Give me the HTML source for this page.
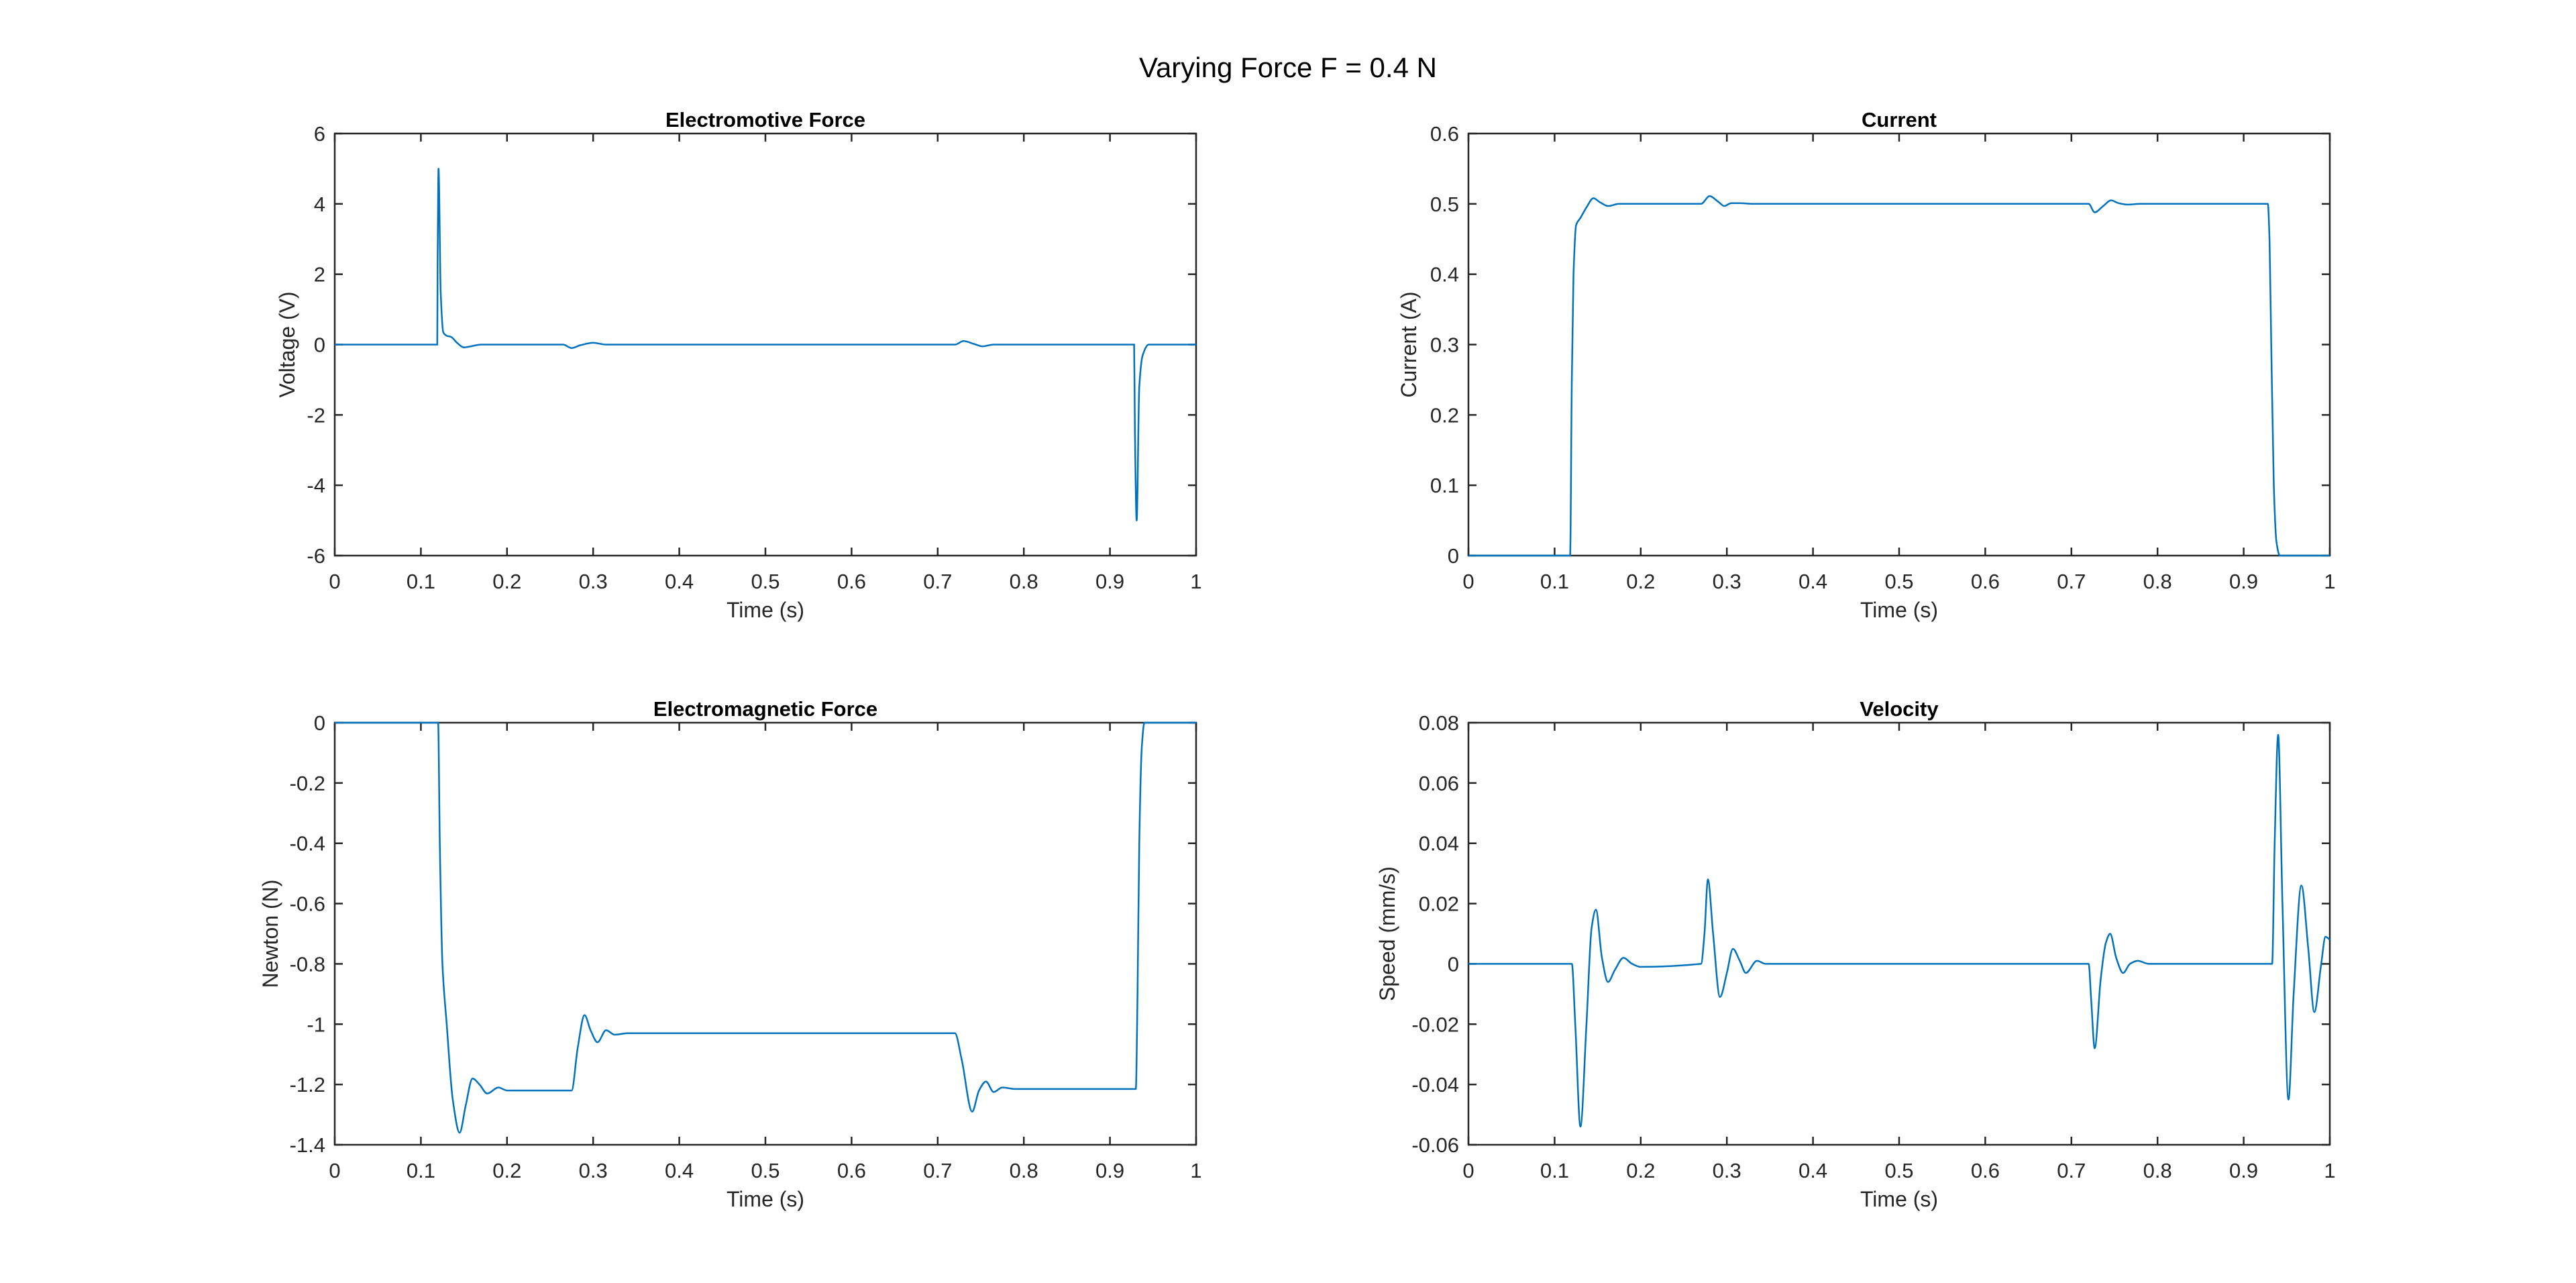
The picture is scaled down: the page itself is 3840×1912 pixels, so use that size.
<!DOCTYPE html>
<html><head><meta charset="utf-8"><style>
html,body{margin:0;padding:0;background:#fff;}
svg{display:block;font-family:"Liberation Sans",Arial,sans-serif;}
</style></head><body>
<svg id="fig" width="3840" height="1912" viewBox="0 0 3840 1912">
<rect width="3840" height="1912" fill="#fff"/>
<text x="1920" y="115" font-size="42" text-anchor="middle" fill="#000">Varying Force F = 0.4 N</text>
</svg>
<script>
// ---- data ----
const emfT = [0,0.119,0.1195,0.1205,0.123,0.126,0.13,0.135,0.142,0.15,0.158,0.17,0.2,0.265,0.275,0.285,0.3,0.315,0.33,0.72,0.73,0.742,0.752,0.765,0.78,0.928,0.929,0.931,0.934,0.938,0.945,1];
const emfV = [0,0,2.5,5,1.5,0.35,0.25,0.22,0.05,-0.08,-0.05,0,0,0,-0.1,-0.02,0.05,0,0,0,0.1,0.02,-0.05,0,0,0,-2.5,-5,-1.2,-0.3,0,0];
const curT = [0,0.118,0.12,0.122,0.125,0.13,0.137,0.145,0.153,0.162,0.175,0.2,0.27,0.28,0.29,0.297,0.305,0.315,0.33,0.72,0.727,0.737,0.746,0.755,0.765,0.78,0.928,0.93,0.932,0.935,0.938,0.942,1];
const curV = [0,0,0.25,0.4,0.47,0.48,0.495,0.508,0.502,0.497,0.5,0.5,0.5,0.511,0.503,0.497,0.501,0.501,0.5,0.5,0.488,0.497,0.505,0.501,0.499,0.5,0.5,0.45,0.3,0.1,0.02,0,0];
const emT = [0,0.12,0.122,0.125,0.13,0.137,0.145,0.152,0.16,0.168,0.177,0.19,0.2,0.275,0.282,0.29,0.297,0.305,0.315,0.325,0.34,0.72,0.728,0.74,0.748,0.756,0.765,0.775,0.79,0.93,0.932,0.934,0.937,0.94,1];
const emV = [0,0,-0.4,-0.8,-1.0,-1.25,-1.36,-1.27,-1.18,-1.2,-1.23,-1.21,-1.22,-1.22,-1.08,-0.97,-1.02,-1.06,-1.02,-1.035,-1.03,-1.03,-1.12,-1.29,-1.22,-1.19,-1.225,-1.21,-1.215,-1.215,-0.9,-0.4,-0.08,0,0];
const velT = [0,0.12,0.124,0.13,0.137,0.143,0.148,0.155,0.162,0.17,0.18,0.19,0.2,0.27,0.274,0.278,0.284,0.292,0.3,0.307,0.315,0.322,0.335,0.345,0.72,0.723,0.727,0.734,0.74,0.745,0.752,0.76,0.768,0.777,0.79,0.933,0.936,0.94,0.945,0.952,0.958,0.967,0.975,0.982,0.99,0.995,1];
const velV = [0,0,-0.02,-0.054,-0.02,0.012,0.018,0.002,-0.006,-0.002,0.002,0,-0.001,0,0.01,0.028,0.01,-0.011,-0.003,0.005,0.001,-0.003,0.001,0,0,-0.012,-0.028,-0.005,0.007,0.01,0.002,-0.003,0,0.001,0,0,0.04,0.076,0.02,-0.045,-0.01,0.026,0.005,-0.016,0,0.009,0.008];
const xTicks = [0,0.1,0.2,0.3,0.4,0.5,0.6,0.7,0.8,0.9,1];
const emfTicks = [-6,-4,-2,0,2,4,6];
const curTicks = [0,0.1,0.2,0.3,0.4,0.5,0.6];
const emTicks = [-1.4,-1.2,-1,-0.8,-0.6,-0.4,-0.2,0];
const velTicks = [-0.06,-0.04,-0.02,0,0.02,0.04,0.06,0.08];

const NS="http://www.w3.org/2000/svg";
const svg=document.getElementById('fig');
function mk(tag,attrs,parent){const e=document.createElementNS(NS,tag);for(const k in attrs)e.setAttribute(k,attrs[k]);(parent||svg).appendChild(e);return e;}
function monoPath(px,py){
  const n=px.length;const d=[],m=[];
  for(let i=0;i<n-1;i++){d.push((py[i+1]-py[i])/(px[i+1]-px[i]));}
  m[0]=d[0];m[n-1]=d[n-2];
  for(let i=1;i<n-1;i++){m[i]=(d[i-1]*d[i]<=0)?0:2*d[i-1]*d[i]/(d[i-1]+d[i]);}
  let s="M"+px[0].toFixed(1)+","+py[0].toFixed(1);
  for(let i=0;i<n-1;i++){const h=(px[i+1]-px[i])/3;
    s+="C"+(px[i]+h).toFixed(1)+","+(py[i]+m[i]*h).toFixed(1)+" "+(px[i+1]-h).toFixed(1)+","+(py[i+1]-m[i+1]*h).toFixed(1)+" "+px[i+1].toFixed(1)+","+py[i+1].toFixed(1);}
  return s;}
function fmt(v){return (Math.round(v*100)/100).toString();}
function panel(id,x0,y0,w,h,ymin,ymax,yticks,title,ylabel,T,V,yOff){
  const g=mk('g',{});
  
  
  const sx=t=>x0+t*w, sy=v=>y0+h-(v-ymin)/(ymax-ymin)*h;
  const bg=mk('rect',{x:x0,y:y0,width:w,height:h,fill:'#fff',stroke:'#262626','stroke-width':2.5},g);
  
  
  xTicks.forEach(t=>{const X=sx(t);
    mk('line',{x1:X,x2:X,y1:y0+h,y2:y0+h-12,stroke:'#262626','stroke-width':2.5},g);
    mk('line',{x1:X,x2:X,y1:y0,y2:y0+12,stroke:'#262626','stroke-width':2.5},g);
    const tx=mk('text',{x:X,y:y0+h+49,'font-size':31,'text-anchor':'middle',fill:'#262626'},g);tx.textContent=fmt(t);
    
    });
  yticks.forEach(v=>{const Y=sy(v);
    mk('line',{x1:x0,x2:x0+12,y1:Y,y2:Y,stroke:'#262626','stroke-width':2.5},g);
    mk('line',{x1:x0+w,x2:x0+w-12,y1:Y,y2:Y,stroke:'#262626','stroke-width':2.5},g);
    const tx=mk('text',{x:x0-14,y:Y+11,'font-size':31,'text-anchor':'end',fill:'#262626'},g);tx.textContent=fmt(v);
    
    });
  const tt=mk('text',{x:x0+w/2,y:y0-10,'font-size':31,'font-weight':'bold','text-anchor':'middle',fill:'#000'},g);tt.textContent=title;
  
  
  const xl=mk('text',{x:x0+w/2,y:y0+h+92,'font-size':32,'text-anchor':'middle',fill:'#262626'},g);xl.textContent='Time (s)';
  
  
  const yx=x0-yOff, yy=y0+h/2;
  const yl=mk('text',{x:yx,y:yy,'font-size':32,'text-anchor':'middle',fill:'#262626',transform:'rotate(-90 '+yx+' '+yy+')'},g);yl.textContent=ylabel;
  
  
  const cp=mk('clipPath',{id:'c'+id},g);mk('rect',{x:x0,y:y0-2,width:w,height:h+4},cp);
  const p=mk('path',{d:monoPath(T.map(sx),V.map(sy)),fill:'none',stroke:'#0072BD','stroke-width':2.5,'clip-path':'url(#c'+id+')'},g);
  
  
}
panel('emf',499,199,1284,629,-6,6,emfTicks,'Electromotive Force','Voltage (V)',emfT,emfV,60);
panel('current',2189,199,1284,629,0,0.6,curTicks,'Current','Current (A)',curT,curV,78);
panel('em-force',499,1077,1284,629,-1.4,0,emTicks,'Electromagnetic Force','Newton (N)',emT,emV,85);
panel('velocity',2189,1077,1284,629,-0.06,0.08,velTicks,'Velocity','Speed (mm/s)',velT,velV,110);
</script>
</body></html>
